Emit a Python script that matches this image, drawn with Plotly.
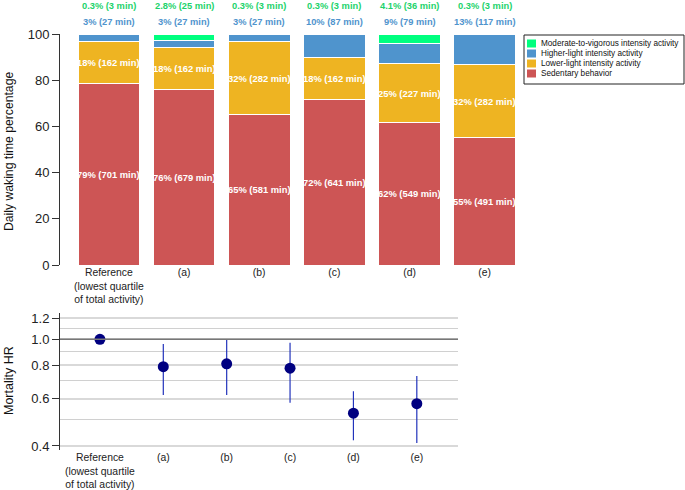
import plotly.graph_objects as go

groups = ['Reference<br>(lowest quartile<br>of total activity)', '(a)', '(b)', '(c)', '(d)', '(e)']
xpos = [0, 1, 2, 3, 4, 5]

# daily waking time, percent of total
sedentary_pct = [78.5, 76.0, 65.1, 71.8, 61.6, 55.0]
lower_pct = [18.1, 18.1, 31.6, 18.1, 25.5, 31.6]
higher_pct = [3.0, 3.0, 3.0, 9.7, 8.9, 13.1]
mvpa_pct = [0.3, 2.8, 0.3, 0.3, 4.0, 0.3]

# labels as printed
sedentary_lab = ['79%', '76%', '65%', '72%', '62%', '55%']
lower_lab = ['18%', '18%', '32%', '18%', '25%', '32%']
higher_lab = ['3%', '3%', '3%', '10%', '9%', '13%']
mvpa_lab = ['0.3%', '2.8%', '0.3%', '0.3%', '4.1%', '0.3%']

sedentary_min = [701, 679, 581, 641, 549, 491]
lower_min = [162, 162, 282, 162, 227, 282]
higher_min = [27, 27, 27, 87, 79, 117]
mvpa_min = [3, 25, 3, 3, 36, 3]

# mortality hazard ratios
hr = [1.0, 0.79, 0.81, 0.78, 0.53, 0.575]
hr_low = [1.0, 0.62, 0.62, 0.58, 0.42, 0.41]
hr_high = [1.0, 0.96, 1.0, 0.97, 0.64, 0.73]

names = ['Sedentary behavior', 'Lower-light intensity activity',
         'Higher-light intensity activity', 'Moderate-to-vigorous intensity activity']
colors = ['#CD5555', '#EEB422', '#4F94CD', '#00FF7F']
series = [sedentary_pct, lower_pct, higher_pct, mvpa_pct]

W, H = 685, 490
FONT = 'Arial, Liberation Sans, sans-serif'


def px_x(p):
    return p / W


def px_y(p):
    return 1 - p / H


fig = go.Figure()

for name, vals, col in zip(names, series, colors):
    fig.add_trace(go.Bar(x=xpos, y=vals, name=name, width=0.82,
                         marker=dict(color=col, line=dict(color='white', width=1)),
                         showlegend=False, hoverinfo='skip', xaxis='x', yaxis='y'))

annotations = []
lab_font = dict(color='white', size=9.4, family=FONT, weight='bold')
for i in xpos:
    # white labels inside sedentary / lower-light segments
    annotations.append(dict(x=i, y=sedentary_pct[i] / 2, xref='x', yref='y', showarrow=False,
                            text='%s (%d min)' % (sedentary_lab[i], sedentary_min[i]),
                            font=lab_font))
    annotations.append(dict(x=i, y=sedentary_pct[i] + lower_pct[i] / 2, xref='x', yref='y',
                            showarrow=False,
                            text='%s (%d min)' % (lower_lab[i], lower_min[i]),
                            font=lab_font))
    # labels above bars
    annotations.append(dict(x=i, y=px_y(22), xref='x', yref='paper', showarrow=False,
                            yanchor='middle',
                            text='%s (%d min)' % (higher_lab[i], higher_min[i]),
                            font=dict(color='#4F94CD', size=9.3, family=FONT, weight='bold')))
    annotations.append(dict(x=i, y=px_y(6), xref='x', yref='paper', showarrow=False,
                            yanchor='middle',
                            text='%s (%d min)' % (mvpa_lab[i], mvpa_min[i]),
                            font=dict(color='#1DD36B', size=9.3, family=FONT, weight='bold')))

# axis titles
annotations.append(dict(x=px_x(9), y=px_y(152), xref='paper', yref='paper', showarrow=False,
                        xanchor='center', yanchor='middle',
                        text='Daily waking time percentage', textangle=-90,
                        font=dict(size=12.2, color='#111', family=FONT)))
annotations.append(dict(x=px_x(9), y=px_y(381), xref='paper', yref='paper', showarrow=False,
                        xanchor='center', yanchor='middle',
                        text='Mortality HR', textangle=-90,
                        font=dict(size=12.5, color='#111', family=FONT)))

# legend drawn by hand
shapes = [dict(type='rect', xref='paper', yref='paper', x0=px_x(524), x1=px_x(684),
               y0=px_y(84), y1=px_y(35), line=dict(color='#222', width=1), fillcolor='white')]
leg_order = list(zip(names, colors))[::-1]
for k, (name, col) in enumerate(leg_order):
    cy = 43.5 + 10 * k
    shapes.append(dict(type='rect', xref='paper', yref='paper', x0=px_x(527), x1=px_x(536),
                       y0=px_y(cy + 4), y1=px_y(cy - 4), line=dict(width=0), fillcolor=col))
    annotations.append(dict(x=px_x(539), y=px_y(cy), xref='paper', yref='paper', showarrow=False,
                            xanchor='left', yanchor='middle', text=name,
                            font=dict(size=8.2, color='#111', family=FONT)))

# HR = 1 reference line
shapes.append(dict(type='line', xref='x2 domain', yref='y2', x0=0, x1=1, y0=1, y1=1,
                   line=dict(color='#777', width=1.5)))

fig.add_trace(go.Scatter(x=xpos, y=hr, mode='markers',
                         marker=dict(color='#000080', size=11),
                         error_y=dict(type='data', symmetric=False,
                                      array=[h - v for h, v in zip(hr_high, hr)],
                                      arrayminus=[v - l for v, l in zip(hr, hr_low)],
                                      color='#2233BB', thickness=1.2, width=0),
                         showlegend=False, hoverinfo='skip', xaxis='x2', yaxis='y2'))

fig.update_layout(
    width=W, height=H,
    margin=dict(l=0, r=0, t=0, b=0, autoexpand=False),
    paper_bgcolor='white', plot_bgcolor='white',
    barmode='stack', showlegend=False,
    font=dict(family=FONT, color='#222'),
    xaxis=dict(domain=[px_x(60), px_x(520)], anchor='y', range=[-0.65, 5.47],
               tickvals=xpos, ticktext=groups, ticks='', showline=False, showgrid=False,
               zeroline=False, automargin=False, tickfont=dict(size=10.4)),
    yaxis=dict(domain=[px_y(265), px_y(34)], anchor='x', range=[0, 100],
               tickvals=[0, 20, 40, 60, 80, 100], ticks='outside', ticklen=7,
               tickcolor='#333', showline=True, linecolor='#333', showgrid=False,
               zeroline=False, automargin=False, tickfont=dict(size=13)),
    xaxis2=dict(domain=[px_x(60), px_x(458)], anchor='y2', range=[-0.63, 5.65],
                tickvals=xpos, ticktext=groups, ticks='', showline=False, showgrid=False,
                zeroline=False, automargin=False, tickfont=dict(size=10.4)),
    yaxis2=dict(domain=[px_y(450), px_y(313)], anchor='x2', type='log',
                range=[-0.413, 0.098],
                tickvals=[0.4, 0.6, 0.8, 1.0, 1.2], ticktext=['0.4', '0.6', '0.8', '1.0', '1.2'],
                ticks='outside', ticklen=7, tickcolor='#333', showline=True, linecolor='#333',
                showgrid=True, gridcolor='#D9D9D9', gridwidth=1.5, zeroline=False,
                automargin=False, tickfont=dict(size=13),
                minor=dict(tickvals=[0.5, 0.7, 0.9, 1.1], showgrid=True,
                           gridcolor='#D0D0D0', gridwidth=1, ticklen=0)),
    shapes=shapes,
    annotations=annotations,
)

fig.write_html('out.html', config={'displayModeBar': False},
               post_script="document.body.style.margin='0';")
